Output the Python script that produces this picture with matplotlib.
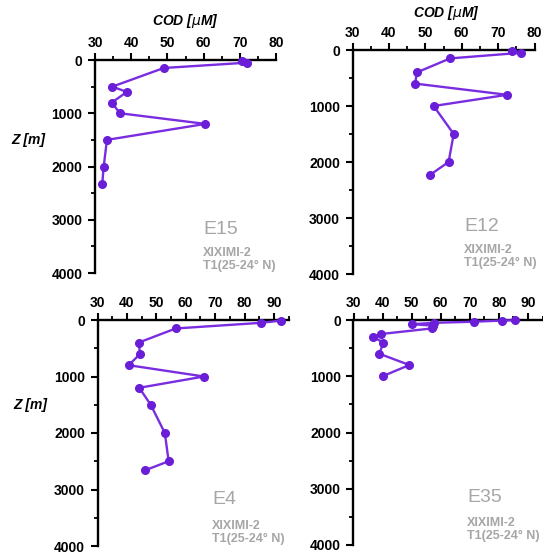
import matplotlib
matplotlib.use("Agg")
import matplotlib.pyplot as plt
from matplotlib.ticker import MultipleLocator

plt.rcParams['font.family'] = ['Liberation Sans', 'DejaVu Sans']

# COD profiles (µM) against depth (m) for each station
e15_depth = [10, 50, 150, 500, 600, 800, 1000, 1200, 1500, 2000, 2330]
e15_cod = [70.5, 72.0, 49.0, 34.8, 38.8, 34.6, 36.9, 60.5, 33.3, 32.4, 32.0]

e12_depth = [10, 50, 150, 400, 600, 800, 1000, 1500, 2000, 2230]
e12_cod = [73.8, 76.3, 56.8, 47.7, 47.2, 72.5, 52.3, 57.8, 56.4, 51.3]

e4_depth = [10, 50, 150, 400, 600, 800, 1000, 1200, 1500, 2000, 2500, 2660]
e4_cod = [92.5, 85.6, 56.6, 44.0, 44.5, 40.6, 66.2, 44.2, 48.1, 52.9, 54.2, 46.2]

e35_depth = [5, 10, 30, 50, 75, 100, 150, 250, 300, 400, 600, 800, 1000]
e35_cod = [85.4, 81.1, 71.5, 57.7, 50.1, 57.5, 56.9, 39.3, 36.6, 40.3, 38.9, 49.2, 40.0]

stations = ["E15", "E12", "E4", "E35"]
cruise = "XIXIMI-2"
transect = "T1(25-24° N)"
xlabel = "COD [$\\mu$M]"
ylabel = "Z [m]"

W, H = 543, 555
fig = plt.figure(figsize=(W / 100, H / 100), dpi=100)


def px_rect(left, top, right, bottom):
    return [left / W, 1 - bottom / H, (right - left) / W, (bottom - top) / H]


def px_pt(x, y):
    return x / W, 1 - y / H


panels = [
    dict(rect=px_rect(95, 60, 276, 273), xmax=80, depth=e15_depth, cod=e15_cod,
         title=(185, 21), ylab=(28, 140), name=(203, 229), sub=(203, 253)),
    dict(rect=px_rect(352.5, 50, 534.5, 274), xmax=80, depth=e12_depth, cod=e12_cod,
         title=(446, 13), ylab=None, name=(464, 226), sub=(464, 250)),
    dict(rect=px_rect(97.5, 320, 288.6, 546), xmax=95, depth=e4_depth, cod=e4_cod,
         title=None, ylab=(30, 405), name=(212, 500), sub=(212, 526)),
    dict(rect=px_rect(353.5, 320, 542.5, 545), xmax=95, depth=e35_depth, cod=e35_cod,
         title=None, ylab=None, name=(467, 498), sub=(467, 523)),
]

purple = "#7a2de0"
grey = "#a6a6a6"

for st, p in zip(stations, panels):
    ax = fig.add_axes(p["rect"])
    ax.plot(p["cod"], p["depth"], color=purple, lw=1.7, marker="o", ms=5.5,
            mfc="#6a1ed8", mec="#6a1ed8", clip_on=False, zorder=3)
    ax.set_xlim(30, p["xmax"])
    ax.set_ylim(4000, 0)
    ax.xaxis.tick_top()
    ax.xaxis.set_major_locator(MultipleLocator(10))
    ax.xaxis.set_minor_locator(MultipleLocator(5))
    ax.yaxis.set_major_locator(MultipleLocator(1000))
    ax.yaxis.set_minor_locator(MultipleLocator(500))
    for side in ("right", "bottom"):
        ax.spines[side].set_visible(False)
    for side in ("left", "top"):
        ax.spines[side].set_linewidth(1.7)
    ax.tick_params(which="major", direction="out", length=5, width=1.5,
                   labelsize=10)
    ax.tick_params(axis="y", which="major", pad=4)
    ax.tick_params(axis="x", which="major", pad=2)
    ax.tick_params(which="minor", direction="out", length=3, width=1.3)
    for lab in ax.get_xticklabels() + ax.get_yticklabels():
        lab.set_fontweight("bold")
    ax.patch.set_alpha(0)

    if p["title"]:
        fig.text(*px_pt(*p["title"]), xlabel, ha="center", va="center",
                 fontsize=10, fontweight="bold", fontstyle="italic")
    if p["ylab"]:
        fig.text(*px_pt(*p["ylab"]), ylabel, ha="center", va="center",
                 fontsize=10, fontweight="bold", fontstyle="italic")
    fig.text(*px_pt(*p["name"]), st, ha="left", va="center",
             fontsize=14, color=grey)
    sx, sy = p["sub"]
    fig.text(*px_pt(sx, sy), cruise, ha="left", va="center",
             fontsize=9, fontweight="bold", color=grey)
    fig.text(*px_pt(sx, sy + 13), transect, ha="left", va="center",
             fontsize=9, fontweight="bold", color=grey)

fig.savefig("out.png", dpi=100)
